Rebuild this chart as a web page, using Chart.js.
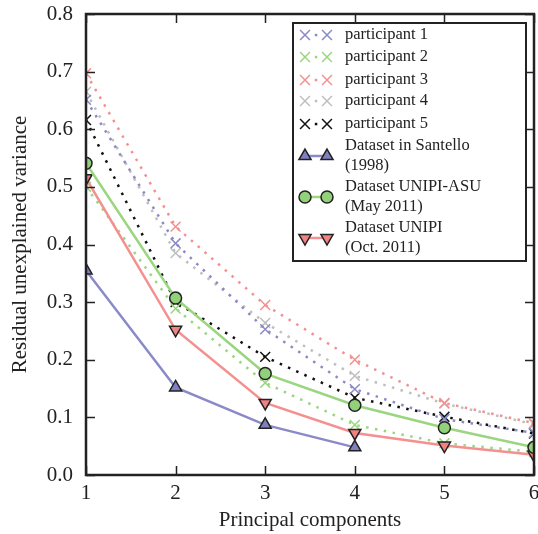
<!DOCTYPE html>
<html>
<head>
<meta charset="utf-8">
<script src="https://cdn.jsdelivr.net/npm/chart.js@4"></script>
<style>
  html, body { margin: 0; padding: 0; background: #fff; }
  #wrap { width: 538px; height: 534px; }
</style>
</head>
<body>
<div id="wrap"><canvas id="c"></canvas></div>
<script>
const components = [1, 2, 3, 4, 5, 6];

const participant1 = [0.651, 0.402, 0.253, 0.149, 0.097, 0.073];
const participant2 = [0.500, 0.289, 0.160, 0.087, 0.055, 0.040];
const participant3 = [0.697, 0.431, 0.295, 0.200, 0.125, 0.090];
const participant4 = [0.665, 0.385, 0.264, 0.172, 0.124, 0.088];
const participant5 = [0.616, 0.300, 0.205, 0.134, 0.101, 0.072];

const santello = [0.355, 0.152, 0.087, 0.048];
const unipiAsu = [0.541, 0.307, 0.176, 0.121, 0.082, 0.048];
const unipi = [0.515, 0.252, 0.125, 0.073, 0.051, 0.035];

const yTicks = [0, 0.1, 0.2, 0.3, 0.4, 0.5, 0.6, 0.7, 0.8];
const xTicks = [1, 2, 3, 4, 5, 6];

const FONT = '"Liberation Serif", "DejaVu Serif", serif';

const pts = (vals) => vals.map((v, i) => ({ x: components[i], y: v }));

function participant(label, color, vals) {
    return {
        label: label,
        data: pts(vals),
        borderColor: color,
        backgroundColor: color,
        borderWidth: 2.5,
        borderDash: [2.5, 6.5],
        pointStyle: 'crossRot',
        pointRadius: 7,
        pointBorderWidth: 1.5,
        pointBorderColor: color,
        clip: 0,
        order: 1,
        kind: 'participant'
    };
}

function dataset(label, color, fill, style, vals, radius) {
    return {
        label: label,
        data: pts(vals),
        borderColor: color,
        backgroundColor: fill,
        borderWidth: 2.5,
        pointStyle: style.name,
        pointRotation: style.rotation || 0,
        pointRadius: radius,
        pointBorderColor: '#222',
        pointBackgroundColor: fill,
        pointBorderWidth: 1.5,
        clip: 0,
        order: 0,
        kind: 'dataset'
    };
}

// inward ticks, frame and the boxed legend
const decorations = {
    id: 'decorations',
    afterDraw(chart) {
        const ctx = chart.ctx;
        const a = chart.chartArea;
        const xs = chart.scales.x, ys = chart.scales.y;
        ctx.save();
        ctx.strokeStyle = '#222';
        ctx.lineWidth = 1.5;
        ctx.beginPath();
        xTicks.forEach(t => {
            const px = Math.round(xs.getPixelForValue(t)) + 0.5;
            ctx.moveTo(px, a.bottom); ctx.lineTo(px, a.bottom - 9);
            ctx.moveTo(px, a.top); ctx.lineTo(px, a.top + 9);
        });
        yTicks.forEach(t => {
            const py = Math.round(ys.getPixelForValue(t)) + 0.5;
            ctx.moveTo(a.left, py); ctx.lineTo(a.left + 9, py);
            ctx.moveTo(a.right, py); ctx.lineTo(a.right - 9, py);
        });
        ctx.stroke();
        ctx.lineWidth = 2.5;
        ctx.strokeRect(a.left, a.top, a.right - a.left, a.bottom - a.top);

        // legend
        const box = { x: 293, y: 23, w: 233, h: 238 };
        ctx.fillStyle = '#fff';
        ctx.fillRect(box.x, box.y, box.w, box.h);
        ctx.lineWidth = 2;
        ctx.strokeRect(box.x, box.y, box.w, box.h);

        const rows = [35, 57, 80, 101, 124, 156, 197, 238];
        const m1 = 305, m2 = 327, tx = 345;
        ctx.font = '16.5px ' + FONT;
        ctx.textBaseline = 'middle';
        chart.data.datasets.forEach((ds, i) => {
            const y = rows[i];
            if (ds.kind === 'participant') {
                ctx.fillStyle = ds.borderColor;
                ctx.fillRect((m1 + m2) / 2 - 1.2, y - 1.2, 2.5, 2.5);
            } else {
                ctx.strokeStyle = ds.borderColor;
                ctx.lineWidth = 2.5;
                ctx.beginPath();
                ctx.moveTo(m1, y); ctx.lineTo(m2, y);
                ctx.stroke();
            }
            [m1, m2].forEach(mx => {
                ctx.strokeStyle = ds.pointBorderColor;
                ctx.fillStyle = ds.pointBackgroundColor || ds.backgroundColor;
                ctx.lineWidth = ds.pointBorderWidth;
                Chart.helpers.drawPoint(ctx, {
                    pointStyle: ds.pointStyle,
                    rotation: ds.pointRotation || 0,
                    radius: ds.pointRadius,
                    borderWidth: ds.pointBorderWidth
                }, mx, y);
            });
            ctx.fillStyle = '#222';
            const lines = ds.label.split('\n');
            if (lines.length === 1) {
                ctx.fillText(lines[0], tx, y);
            } else {
                ctx.fillText(lines[0], tx, y - 10);
                ctx.fillText(lines[1], tx, y + 10);
            }
        });
        ctx.restore();
    }
};

new Chart(document.getElementById('c'), {
    type: 'line',
    data: {
        datasets: [
            participant('participant 1', '#8a8ac8', participant1),
            participant('participant 2', '#99d67f', participant2),
            participant('participant 3', '#f49090', participant3),
            participant('participant 4', '#bfbfbf', participant4),
            participant('participant 5', '#111111', participant5),
            dataset('Dataset in Santello\n(1998)', '#8a8ac8', '#8080c0', { name: 'triangle' }, santello, 7),
            dataset('Dataset UNIPI-ASU\n(May 2011)', '#99d67f', '#92d07a', { name: 'circle' }, unipiAsu, 6),
            dataset('Dataset UNIPI\n(Oct. 2011)', '#f49090', '#f08282', { name: 'triangle', rotation: 180 }, unipi, 7)
        ]
    },
    options: {
        responsive: true,
        maintainAspectRatio: false,
        animation: false,
        layout: { autoPadding: false, padding: { top: 14, right: 4, left: 0, bottom: 0 } },
        plugins: {
            legend: { display: false },
            tooltip: { enabled: false }
        },
        elements: { line: { tension: 0 } },
        scales: {
            x: {
                type: 'linear',
                min: 1,
                max: 6,
                afterBuildTicks: (scale) => { scale.ticks = xTicks.map(v => ({ value: v })); },
                afterFit: (scale) => {
                    scale.height = 59;
                    scale.paddingLeft = 0;
                    scale.paddingRight = 0;
                },
                grid: { display: false, drawTicks: false },
                border: { display: false },
                ticks: {
                    color: '#222',
                    padding: 6,
                    font: { family: FONT, size: 21 },
                    callback: (v) => String(v)
                },
                title: {
                    display: true,
                    text: 'Principal components',
                    color: '#222',
                    padding: { top: 0, bottom: 1 },
                    font: { family: FONT, size: 21 }
                }
            },
            y: {
                min: 0,
                max: 0.8,
                afterBuildTicks: (scale) => { scale.ticks = yTicks.map(v => ({ value: v })); },
                afterFit: (scale) => {
                    scale.width = 86;
                    scale.paddingTop = 0;
                    scale.paddingBottom = 0;
                },
                grid: { display: false, drawTicks: false },
                border: { display: false },
                ticks: {
                    color: '#222',
                    padding: 13,
                    font: { family: FONT, size: 21 },
                    callback: (v) => Number(v).toFixed(1)
                },
                title: {
                    display: true,
                    text: 'Residual unexplained variance',
                    color: '#222',
                    padding: { top: 8, bottom: 0 },
                    font: { family: FONT, size: 21 }
                }
            }
        }
    },
    plugins: [decorations]
});
</script>
</body>
</html>
